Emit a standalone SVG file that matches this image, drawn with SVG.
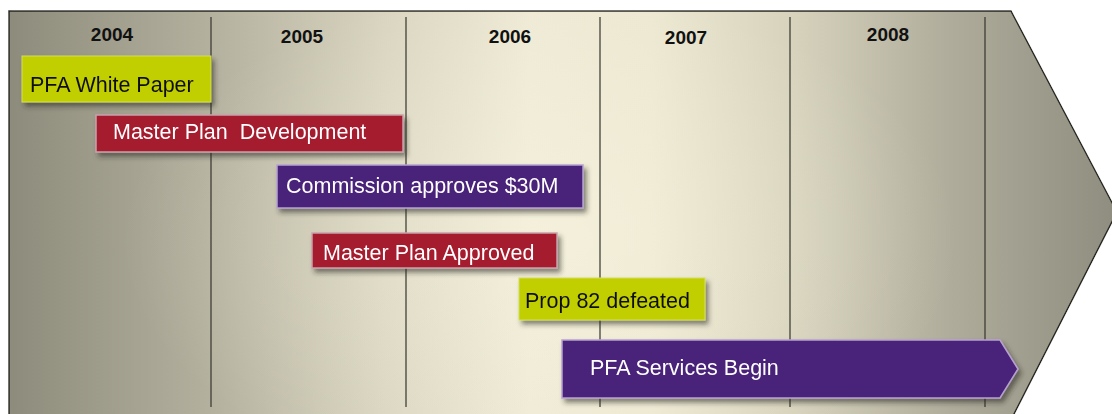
<svg xmlns="http://www.w3.org/2000/svg" width="1112" height="414" viewBox="0 0 1112 414">
  <defs>
    <linearGradient id="bandFill" gradientUnits="userSpaceOnUse" x1="9" y1="0" x2="1117" y2="0">
      <stop offset="0" stop-color="#8d8b7b"/>
      <stop offset="0.18" stop-color="#b3b09e"/>
      <stop offset="0.34" stop-color="#d9d5c0"/>
      <stop offset="0.47" stop-color="#eeead5"/>
      <stop offset="0.58" stop-color="#ede8d2"/>
      <stop offset="0.71" stop-color="#d6d2bc"/>
      <stop offset="0.85" stop-color="#afac9b"/>
      <stop offset="1" stop-color="#8e8d7f"/>
    </linearGradient>
    <radialGradient id="bandGlow" gradientUnits="userSpaceOnUse" cx="540" cy="240" r="420" gradientTransform="translate(540 240) scale(1 0.6) translate(-540 -240)">
      <stop offset="0" stop-color="#fffbe6" stop-opacity="0.35"/>
      <stop offset="1" stop-color="#fffbe6" stop-opacity="0"/>
    </radialGradient>
    <filter id="shadow" x="-10%" y="-30%" width="130%" height="170%">
      <feDropShadow dx="3" dy="4" stdDeviation="2.5" flood-color="#2b2a22" flood-opacity="0.55"/>
    </filter>
    <filter id="edgeHalo" x="-5%" y="-5%" width="110%" height="110%">
      <feDropShadow dx="2" dy="2" stdDeviation="2" flood-color="#ffffff" flood-opacity="0.9"/>
    </filter>
  </defs>
  <style>
    .year { font-family: "Liberation Sans", Arial, sans-serif; font-weight: bold; font-size: 19px; fill: #111111; text-anchor: middle; }
    .divider { stroke: #35342c; stroke-width: 1.2; }
    .label { font-family: "Liberation Sans", Arial, sans-serif; font-size: 21.5px; white-space: pre; }
    .green rect { fill: #c1cf00; stroke: #d4de5a; stroke-width: 1; }
    .green text { fill: #111111; }
    .red rect { fill: #a51b2e; stroke: #c9a3ab; stroke-width: 1.5; }
    .red text { fill: #ffffff; }
    .purple rect, .purple path { fill: #4a2179; stroke: #b7a2cf; stroke-width: 1.5; }
    .purple text { fill: #ffffff; }
  </style>

  <rect width="1112" height="414" fill="#ffffff"/>

  <!-- timeline band shaped as a large arrow -->
  <g id="timeline-band">
    <path d="M9 11 H1011 L1117 212 L1011 420 H9 Z" fill="url(#bandFill)" stroke="#26251f" stroke-width="1.5" filter="url(#edgeHalo)"/>
    <path d="M9 11 H1011 L1117 212 L1011 420 H9 Z" fill="url(#bandGlow)"/>
  </g>

  <!-- year dividers -->
  <g id="dividers">
    <line class="divider" x1="211" y1="17" x2="211" y2="407"/>
    <line class="divider" x1="406" y1="17" x2="406" y2="407"/>
    <line class="divider" x1="600" y1="17" x2="600" y2="407"/>
    <line class="divider" x1="790" y1="17" x2="790" y2="407"/>
    <line class="divider" x1="985" y1="17" x2="985" y2="407"/>
  </g>

  <!-- year headings -->
  <g id="years">
    <text class="year" x="112" y="41">2004</text>
    <text class="year" x="302" y="43">2005</text>
    <text class="year" x="510" y="43">2006</text>
    <text class="year" x="686" y="44">2007</text>
    <text class="year" x="888" y="41">2008</text>
  </g>

  <!-- milestones -->
  <g id="pfa-white-paper" class="green" filter="url(#shadow)">
    <rect x="22" y="56" width="189" height="46"/>
    <text class="label" x="30" y="92">PFA White Paper</text>
  </g>

  <g id="master-plan-development" class="red" filter="url(#shadow)">
    <rect x="96" y="115" width="307" height="37"/>
    <text class="label" x="113" y="139">Master Plan  Development</text>
  </g>

  <g id="commission-approves" class="purple" filter="url(#shadow)">
    <rect x="277" y="165" width="306" height="43"/>
    <text class="label" x="286" y="193">Commission approves $30M</text>
  </g>

  <g id="master-plan-approved" class="red" filter="url(#shadow)">
    <rect x="312" y="233" width="245" height="35"/>
    <text class="label" x="323" y="260">Master Plan Approved</text>
  </g>

  <g id="prop-82-defeated" class="green" filter="url(#shadow)">
    <rect x="519" y="278" width="186" height="42"/>
    <text class="label" x="525" y="308">Prop 82 defeated</text>
  </g>

  <g id="pfa-services-begin" class="purple" filter="url(#shadow)">
    <path d="M562 340 H1000 L1018 369 L1000 398 H562 Z"/>
    <text class="label" x="590" y="375">PFA Services Begin</text>
  </g>
</svg>
